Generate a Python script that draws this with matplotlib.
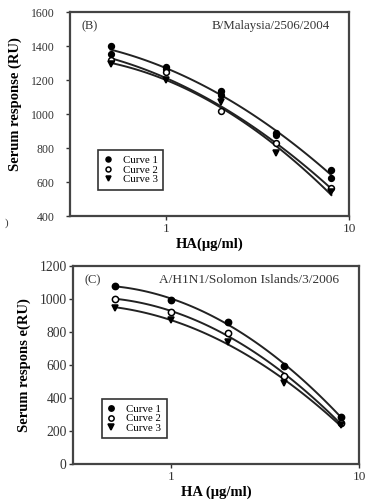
import numpy as np
import matplotlib
matplotlib.use("Agg")
import matplotlib.pyplot as plt
from matplotlib.ticker import FixedLocator, NullLocator

plt.rcParams['font.family'] = ['Liberation Serif', 'DejaVu Serif']

# HA concentration (ug/ml)
ha = [0.5, 1, 2, 4, 8]

# panel B: B/Malaysia/2506/2004
b_curve1 = [1400, 1277, 1137, 891, 671]
b_curve1_rep = [1355, 1265, 1112, 880, 624]
b_curve2 = [1316, 1248, 1020, 829, 566]
b_curve3 = [1297, 1199, 1072, 770, 540]

# panel C: A/H1N1/Solomon Islands/3/2006
c_curve1 = [1080, 993, 862, 596, 288]
c_curve2 = [1003, 922, 792, 534, 248]
c_curve3 = [949, 872, 741, 493, 238]

labels = ['Curve 1', 'Curve 2', 'Curve 3']
markers = ['o', 'o', 'v']
faces = ['black', 'white', 'black']


def fit_line(ax, x, y):
    # smooth fitted curve in log-x
    lx = np.log10(x)
    p = np.polyfit(lx, y, 2)
    xs = np.linspace(lx.min(), lx.max(), 100)
    ax.plot(10 ** xs, np.polyval(p, xs), color='#222222', lw=1.4, zorder=2)


def draw_panel(ax, series, extra, ylim, yticks, tag, title, ylabel, xlabel,
               tick_size, tick_pad, title_size, ms, ylab_xy):
    x = np.array(ha)
    for i, y in enumerate(series):
        y = np.array(y, dtype=float)
        if i == 0 and extra is not None:
            fit_line(ax, x, (y + np.array(extra)) / 2)
            ax.plot(x, extra, linestyle='none', marker='o', ms=ms,
                    mfc='black', mec='black', zorder=3)
        else:
            fit_line(ax, x, y)
        ax.plot(x, y, linestyle='none', marker=markers[i], ms=ms,
                mfc=faces[i], mec='black', mew=1.1, label=labels[i], zorder=3)

    ax.set_xscale('log')
    ax.set_xlim(0.3, 10)
    ax.set_ylim(*ylim)
    ax.xaxis.set_major_locator(FixedLocator([1, 10]))
    ax.xaxis.set_minor_locator(NullLocator())
    ax.set_xticklabels(['1', '10'])
    ax.set_yticks(yticks)
    ax.tick_params(direction='out', length=3, width=1, labelsize=9.5,
                   colors='#333333', pad=2)
    ax.tick_params(axis='y', labelsize=tick_size, pad=tick_pad)
    for s in ax.spines.values():
        s.set_linewidth(1.6)
        s.set_color('#444444')

    ax.text(0.04, 0.96, tag, transform=ax.transAxes, fontsize=9,
            va='top', ha='left', color='#333333')
    ax.text(0.93, 0.96, title, transform=ax.transAxes, fontsize=title_size,
            va='top', ha='right', color='#333333')
    ax.set_ylabel(ylabel, fontsize=10.5, fontweight='bold')
    ax.yaxis.set_label_coords(*ylab_xy)
    ax.set_xlabel(xlabel, fontsize=10.5, fontweight='bold', labelpad=2)

    leg = ax.legend(loc='lower left', bbox_to_anchor=(0.1, 0.13), fontsize=7.8,
                    frameon=True, fancybox=False, handlelength=0.8,
                    handletextpad=1.0, labelspacing=0.0, borderpad=0.5,
                    borderaxespad=0, markerscale=0.85)
    leg.get_frame().set_edgecolor('black')
    leg.get_frame().set_linewidth(1.2)


fig = plt.figure(figsize=(3.82, 5.04), dpi=100)

ax1 = fig.add_axes([0.183, 0.571, 0.731, 0.405])
draw_panel(ax1, [b_curve1, b_curve2, b_curve3], b_curve1_rep,
           (400, 1600), [400, 600, 800, 1000, 1200, 1400, 1600], '(B)',
           'B/Malaysia/2506/2004', 'Serum response (RU)', 'HA(\u03bcg/ml)',
           8.5, 8, 9.3, 4.2, (-0.17, 0.55))

ax2 = fig.add_axes([0.191, 0.079, 0.749, 0.393])
draw_panel(ax2, [c_curve1, c_curve2, c_curve3], None,
           (0, 1200), [0, 200, 400, 600, 800, 1000, 1200], '(C)',
           'A/H1N1/Solomon Islands/3/2006', 'Serum respons e(RU)',
           'HA (\u03bcg/ml)', 9.8, 1.5, 9.6, 4.5, (-0.145, 0.5))

fig.text(0.012, 0.553, ')', fontsize=8, color='#333333')

fig.savefig('out.png', dpi=100)
